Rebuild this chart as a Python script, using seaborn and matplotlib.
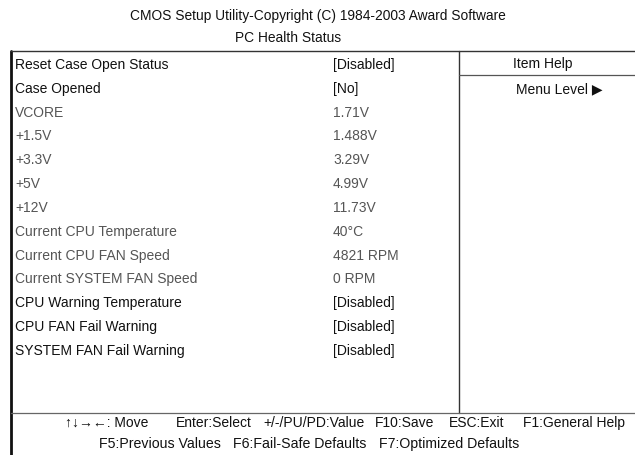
import pandas as pd
import seaborn as sns
import matplotlib.pyplot as plt

title = "CMOS Setup Utility-Copyright (C) 1984-2003 Award Software"
subtitle = "PC Health Status"

items = ["Reset Case Open Status", "Case Opened", "VCORE", "+1.5V", "+3.3V", "+5V", "+12V",
         "Current CPU Temperature", "Current CPU FAN Speed", "Current SYSTEM FAN Speed",
         "CPU Warning Temperature", "CPU FAN Fail Warning", "SYSTEM FAN Fail Warning"]
values = ["[Disabled]", "[No]", "1.71V", "1.488V", "3.29V", "4.99V", "11.73V",
          "40\u00b0C", "4821 RPM", "0 RPM", "[Disabled]", "[Disabled]", "[Disabled]"]
editable = [True, True, False, False, False, False, False, False, False, False, True, True, True]

help_title = "Item Help"
help_text = "Menu Level \u25b6"

keys_row1 = ["\u2191\u2193\u2192\u2190: Move", "Enter:Select", "+/-/PU/PD:Value", "F10:Save",
             "ESC:Exit", "F1:General Help"]
keys_row2 = ["F5:Previous Values", "F6:Fail-Safe Defaults", "F7:Optimized Defaults"]

df = pd.DataFrame({"item": items, "value": values, "editable": editable})

sns.set_style("white")
plt.rcParams['font.family'] = ['Liberation Sans', 'DejaVu Sans']

fig = plt.figure(figsize=(6.35, 4.55), dpi=100)
ax = fig.add_axes([0, 0, 1, 1])
ax.set_xlim(0, 635)
ax.set_ylim(455, 0)
ax.axis("off")

# frame
line_kw = dict(color="#333333", lw=1.0)
ax.plot([11, 11], [51, 455], color="#111111", lw=2.0)
ax.plot([11, 635], [51, 51], **line_kw)
ax.plot([459, 459], [51, 413], **line_kw)
ax.plot([459, 635], [75, 75], color="#555555", lw=0.9)
ax.plot([11, 635], [413, 413], color="#666666", lw=0.9)

# headers
ax.text(318, 16, title, ha="center", va="center", fontsize=9.9, color="#111111")
ax.text(288, 38, subtitle, ha="center", va="center", fontsize=9.9, color="#111111")

# item rows
row0, step = 65, 23.83
for i, r in df.iterrows():
    y = row0 + i * step
    col = "#111111" if r["editable"] else "#555555"
    ax.text(15, y, r["item"], ha="left", va="center", fontsize=10.0, color=col)
    ax.text(333, y, r["value"], ha="left", va="center", fontsize=10.0, color=col)

# help panel
ax.text(543, 64, help_title, ha="center", va="center", fontsize=10.0, color="#111111")
ax.text(516, 89, help_text, ha="left", va="center", fontsize=10.0, color="#111111")

# key bar
x1 = [65, 176, 263, 375, 449, 523]
for x, t in zip(x1, keys_row1):
    ax.text(x, 423, t, ha="left", va="center", fontsize=10.0, color="#111111")
x2 = [99, 233, 379]
for x, t in zip(x2, keys_row2):
    ax.text(x, 444, t, ha="left", va="center", fontsize=10.2, color="#111111")

plt.savefig("out.png", dpi=100)
